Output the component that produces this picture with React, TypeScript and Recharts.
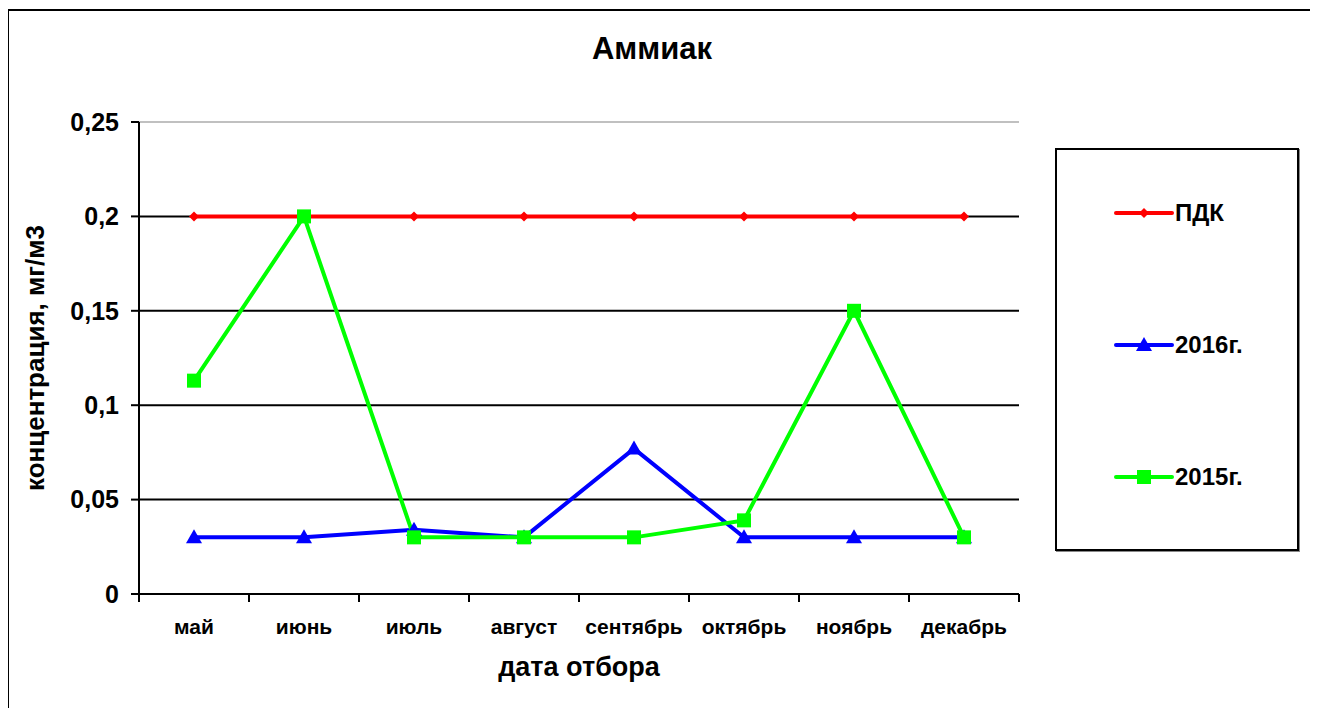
import { LineChart, Line, XAxis, YAxis, CartesianGrid, ReferenceLine } from 'recharts'

const months = ['май', 'июнь', 'июль', 'август', 'сентябрь', 'октябрь', 'ноябрь', 'декабрь']
const pdk = [0.2, 0.2, 0.2, 0.2, 0.2, 0.2, 0.2, 0.2]
const y2016 = [0.03, 0.03, 0.034, 0.03, 0.077, 0.03, 0.03, 0.03]
const y2015 = [0.113, 0.2, 0.03, 0.03, 0.03, 0.039, 0.15, 0.03]
const yTicks = [0, 0.05, 0.1, 0.15, 0.2, 0.25]

const title = 'Аммиак'
const xTitle = 'дата отбора'
const yTitle = 'концентрация, мг/м3'

const FONT = 'Arial, "Liberation Sans", sans-serif'
const RED = '#ff0000'
const BLUE = '#0000ff'
const GREEN = '#00ff00'

// each month sits in the middle of its slot, slot edges get the tick marks
const data = months.map((m, i) => ({
  pos: i + 0.5,
  month: m,
  pdk: pdk[i],
  y2016: y2016[i],
  y2015: y2015[i],
}))
const xTicks = months.flatMap((_, i) => [i, i + 0.5]).concat(months.length)

const Diamond = ({ cx, cy, fill }: any) => (
  <path d={`M${cx},${cy - 5}L${cx + 5},${cy}L${cx},${cy + 5}L${cx - 5},${cy}Z`} fill={fill} />
)
const Triangle = ({ cx, cy, fill }: any) => (
  <path d={`M${cx},${cy - 8}L${cx + 8},${cy + 6}L${cx - 8},${cy + 6}Z`} fill={fill} />
)
const Square = ({ cx, cy, fill }: any) => <rect x={cx - 7} y={cy - 7} width={14} height={14} fill={fill} />

const XTick = ({ x, y, payload }: any) => {
  const v = payload.value
  if (Number.isInteger(v)) {
    return <line x1={x} y1={y} x2={x} y2={y + 8} stroke="#000" strokeWidth={2} />
  }
  return (
    <text x={x} y={y + 40} textAnchor="middle" fontFamily={FONT} fontWeight="bold" fontSize={21} fill="#000">
      {months[Math.floor(v)]}
    </text>
  )
}

const legendItems = [
  { name: 'ПДК', color: RED, Marker: Diamond },
  { name: '2016г.', color: BLUE, Marker: Triangle },
  { name: '2015г.', color: GREEN, Marker: Square },
]

export default function App() {
  return (
    <div style={{ position: 'relative', width: 1300, height: 700, fontFamily: FONT }}>
      <div
        style={{
          position: 'absolute',
          left: -1,
          top: 1,
          width: 1308,
          height: 714,
          borderTop: '2px solid #000',
          borderLeft: '2px solid #000',
        }}
      />
      <div
        style={{
          position: 'absolute',
          left: 0,
          top: 26,
          width: 1288,
          textAlign: 'center',
          fontSize: 31,
          lineHeight: '30px',
          fontWeight: 'bold',
        }}
      >
        {title}
      </div>
      <div style={{ position: 'absolute', left: 0, top: 0 }}>
        <LineChart width={1300} height={700} data={data} margin={{ top: 114, right: 289, bottom: 0, left: 0 }}>
          <CartesianGrid vertical={false} stroke="#000" strokeWidth={2} />
          <ReferenceLine y={0.25} stroke="#c0c0c0" strokeWidth={2} />
          <XAxis
            dataKey="pos"
            type="number"
            domain={[0, months.length]}
            ticks={xTicks}
            interval={0}
            height={114}
            tickSize={0}
            tickMargin={0}
            tick={<XTick />}
            axisLine={{ stroke: '#000', strokeWidth: 2 }}
            label={{
              value: xTitle,
              position: 'insideBottom',
              offset: 32,
              style: { fontFamily: FONT, fontWeight: 'bold', fontSize: 27, fill: '#000' },
            }}
          />
          <YAxis
            domain={[0, 0.25]}
            ticks={yTicks}
            width={131}
            tickSize={8}
            tickMargin={12}
            tickFormatter={(v: number) => String(v).replace('.', ',')}
            tick={{ fontFamily: FONT, fontWeight: 'bold', fontSize: 25, fill: '#000' }}
            tickLine={{ stroke: '#000', strokeWidth: 2 }}
            axisLine={{ stroke: '#000', strokeWidth: 2 }}
            label={{
              value: yTitle,
              angle: -90,
              position: 'insideLeft',
              offset: 27,
              style: { fontFamily: FONT, fontWeight: 'bold', fontSize: 26, fill: '#000', textAnchor: 'middle' },
            }}
          />
          <Line
            dataKey="pdk"
            stroke={RED}
            strokeWidth={4}
            isAnimationActive={false}
            activeDot={false}
            dot={(p: any) => <Diamond key={p.index} cx={p.cx} cy={p.cy} fill={RED} />}
          />
          <Line
            dataKey="y2016"
            stroke={BLUE}
            strokeWidth={4}
            isAnimationActive={false}
            activeDot={false}
            dot={(p: any) => <Triangle key={p.index} cx={p.cx} cy={p.cy} fill={BLUE} />}
          />
          <Line
            dataKey="y2015"
            stroke={GREEN}
            strokeWidth={4}
            isAnimationActive={false}
            activeDot={false}
            dot={(p: any) => <Square key={p.index} cx={p.cx} cy={p.cy} fill={GREEN} />}
          />
        </LineChart>
      </div>
      <div
        style={{
          position: 'absolute',
          left: 1047,
          top: 140,
          width: 244,
          height: 403,
          boxSizing: 'border-box',
          border: '2px solid #000',
          boxShadow: '1px 1px 0 #888',
          background: '#fff',
        }}
      >
        {legendItems.map(({ name, color, Marker }, i) => (
          <div
            key={name}
            style={{ position: 'absolute', left: 57, top: 63 + i * 132 - 12, height: 24, display: 'flex', alignItems: 'center' }}
          >
            <svg width={60} height={24}>
              <line x1={2} y1={12} x2={58} y2={12} stroke={color} strokeWidth={4} strokeLinecap="round" />
              <Marker cx={30} cy={12} fill={color} />
            </svg>
            <span style={{ fontSize: 24, fontWeight: 'bold', marginLeft: 1 }}>{name}</span>
          </div>
        ))}
      </div>
    </div>
  )
}
